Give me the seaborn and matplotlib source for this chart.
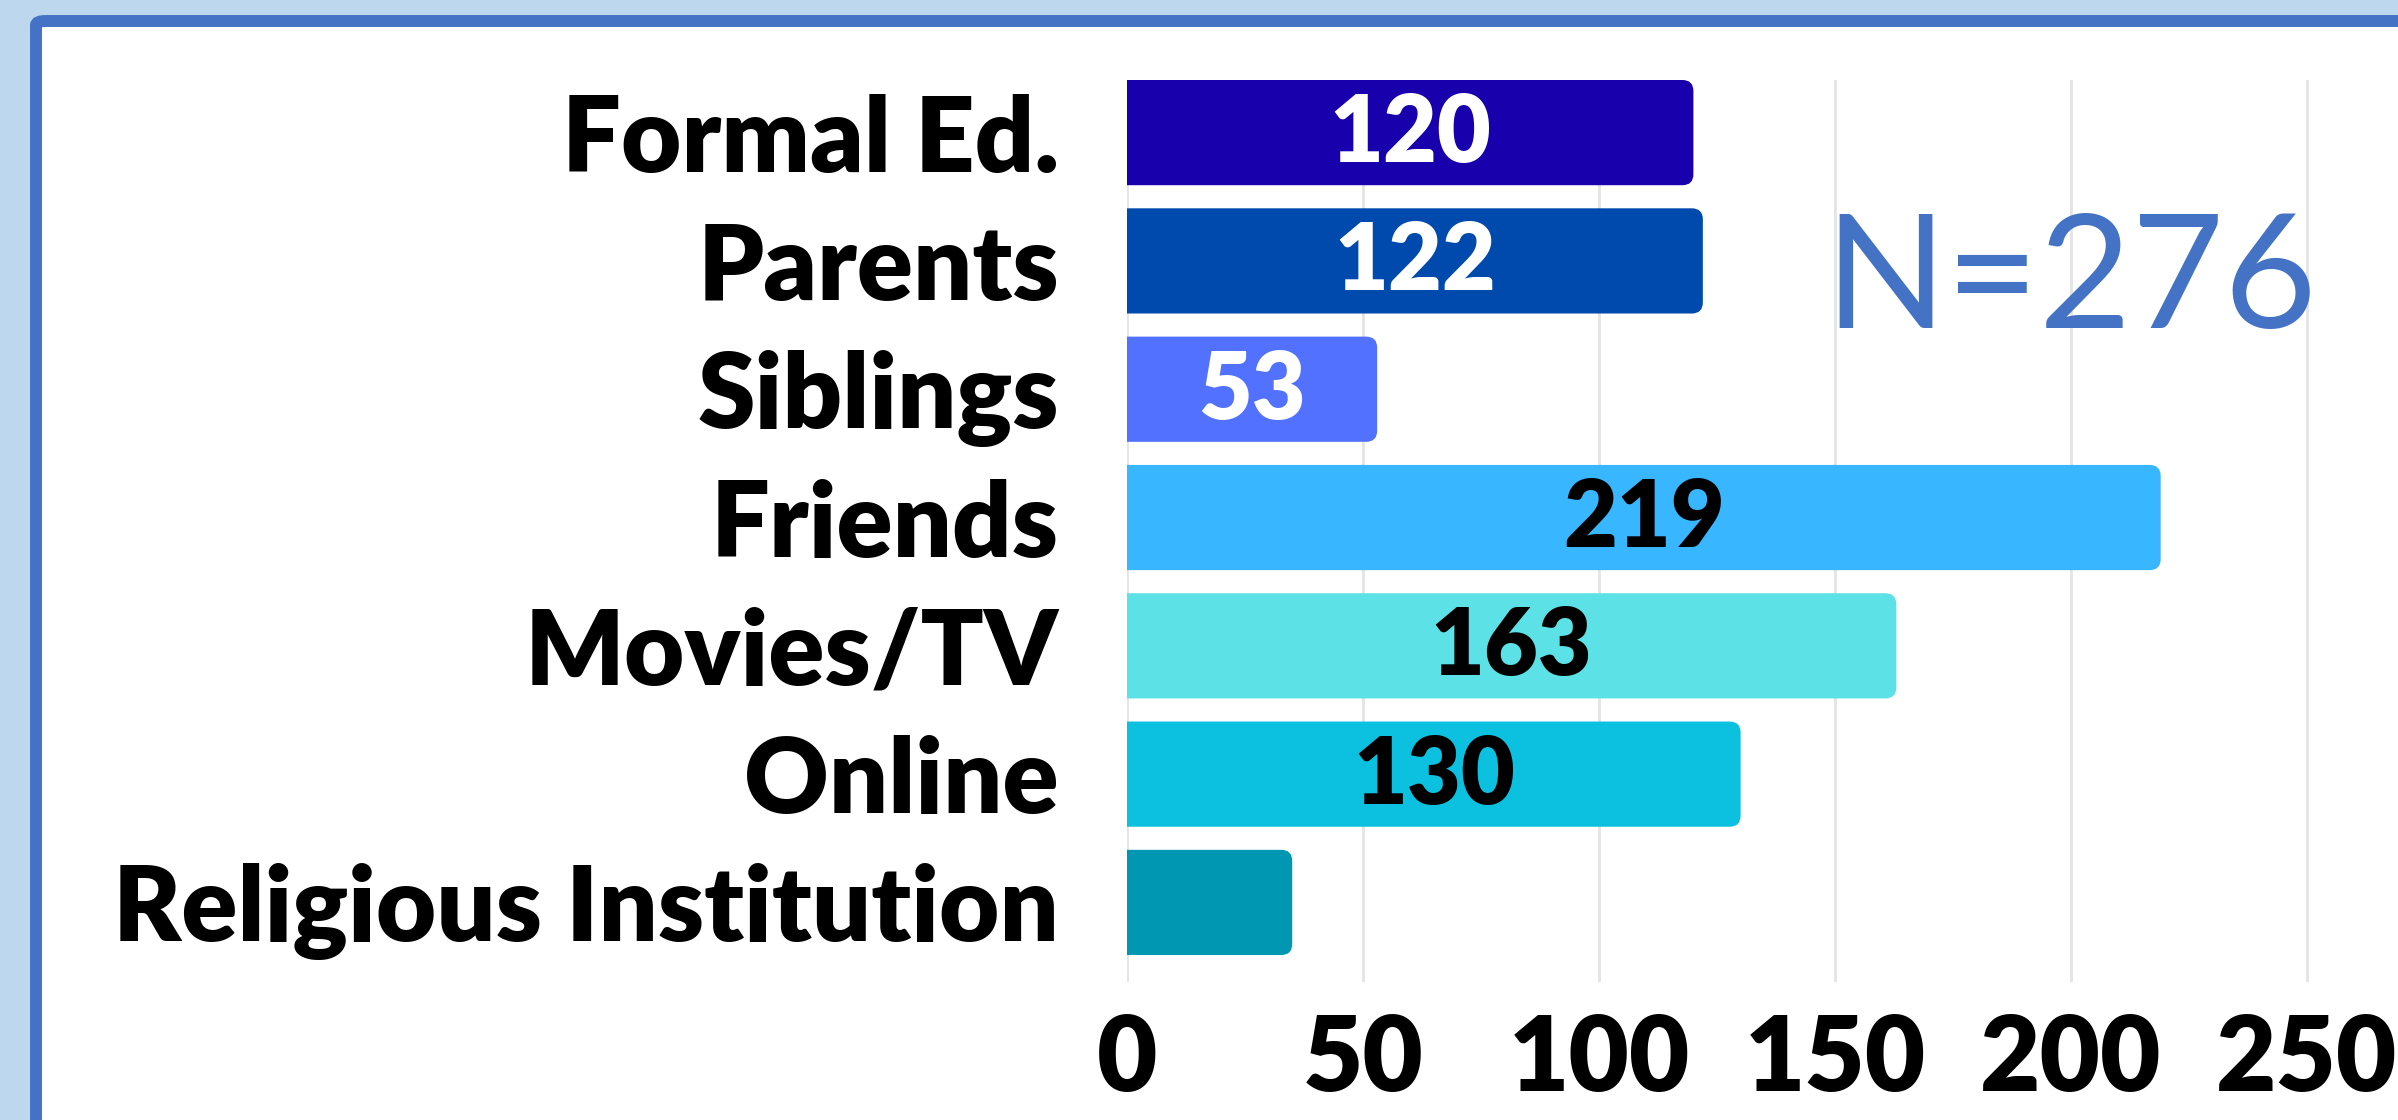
import matplotlib
matplotlib.use("Agg")
import matplotlib.pyplot as plt
import seaborn as sns
import pandas as pd
from matplotlib.patches import FancyBboxPatch

# dados
categorias = ["Formal Ed.", "Parents", "Siblings", "Friends",
              "Movies/TV", "Online", "Religious Institution"]
valores = [120, 122, 53, 219, 163, 130, 35]
cores = ["#1800ad", "#004aad", "#5271ff", "#38b6ff",
         "#5ce1e6", "#0cc0df", "#0097b2"]
cor_rotulo = ["white", "white", "white", "black", "black", "black", None]
ticks_x = [0, 50, 100, 150, 200, 250]
texto_n = "N=276"

df = pd.DataFrame({"fonte": categorias, "n": valores})

sns.set_theme(style="white")
plt.rcParams["font.family"] = ["Lato", "DejaVu Sans"]

W, H = 2398, 1120
fig = plt.figure(figsize=(W / 100, H / 100), dpi=100, facecolor="#bdd7ee")

# moldura branca com borda azul
moldura = FancyBboxPatch((36 / W, -0.2), 1.2, (H - 21) / H + 0.2,
                         boxstyle="round,pad=0,rounding_size=0.004",
                         transform=fig.transFigure, facecolor="white",
                         edgecolor="#4472c4", linewidth=8.6, zorder=-5)
fig.patches.append(moldura)

ax = fig.add_axes([1127 / W, 1 - 982 / H, 1 - 1127 / W, (982 - 80) / H])
ax.set_facecolor("none")
ax.set_zorder(2)

xmax = (W - 1127) / 4.72

sns.barplot(data=df, y="fonte", x="n", hue="fonte", palette=cores,
            saturation=1, legend=False, width=0.82, ax=ax, zorder=2)
ax.set_xlim(0, xmax)
ax.set_ylim(6.62, -0.41)

# cantos arredondados (o lado esquerdo fica recortado em x=0)
px_x = 4.72
px_y = (982 - 80) / (6.62 + 0.41)
raio = 11 / px_x
for p, c in zip(list(ax.patches), cores):
    x0, y0, w, h = p.get_x(), p.get_y(), p.get_width(), p.get_height()
    p.set_visible(False)
    r = FancyBboxPatch((x0 - 2 * raio, y0), w + 2 * raio, h,
                       boxstyle=f"round,pad=0,rounding_size={raio}",
                       mutation_aspect=px_x / px_y,
                       facecolor=c, edgecolor="none", zorder=2)
    ax.add_patch(r)

for i, (v, cl) in enumerate(zip(valores, cor_rotulo)):
    if cl is None:
        continue
    ax.text(v / 2, i + 0.02, str(v), ha="center", va="center", color=cl,
            fontsize=67, fontweight="heavy", zorder=3)

ax.set_xticks(ticks_x)
ax.set_xticklabels([str(t) for t in ticks_x])
for t in ticks_x:
    ax.axvline(t, color="#e4e4e4", linewidth=2, zorder=1)

ax.tick_params(axis="x", length=0, pad=22, labelsize=75)
ax.tick_params(axis="y", length=0, pad=49, labelsize=75)
for lab in ax.get_xticklabels() + ax.get_yticklabels():
    lab.set_fontweight("heavy")
    lab.set_color("black")

ax.set_xlabel("")
ax.set_ylabel("")
for s in ax.spines.values():
    s.set_visible(False)

ax.text(200, 1.17, texto_n, ha="center", va="center", color="#4472c4",
        fontsize=115, fontweight="normal", zorder=3)

fig.savefig("out.png", dpi=100, facecolor=fig.get_facecolor())
